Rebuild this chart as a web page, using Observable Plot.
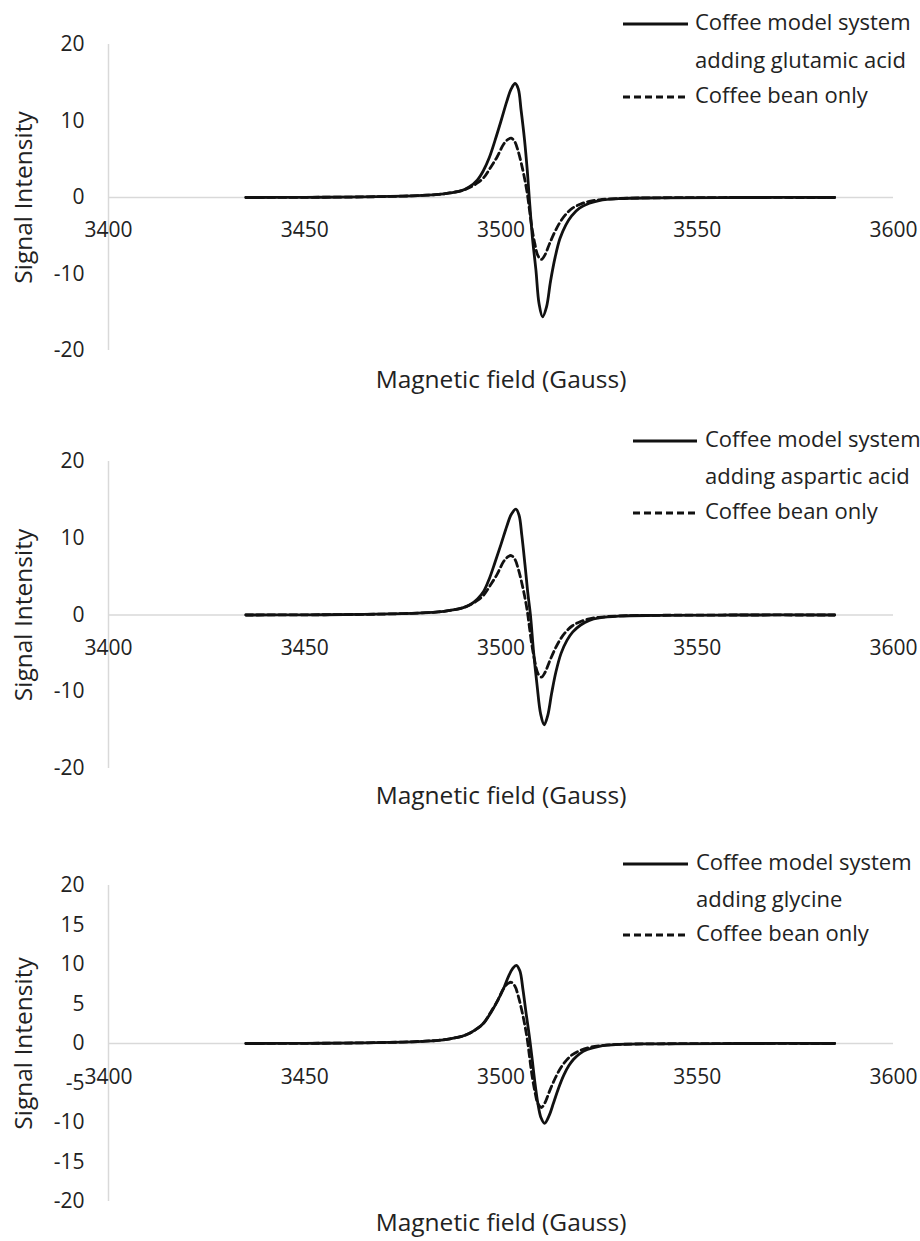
<!DOCTYPE html>
<html><head><meta charset="utf-8">
<script src="https://cdn.jsdelivr.net/npm/d3@7"></script>
<script src="https://cdn.jsdelivr.net/npm/@observablehq/plot@0.6"></script>
<style>
body{margin:0;background:#fff;font-family:"Open Sans",sans-serif;}
#root{position:relative;width:920px;height:1241px;overflow:hidden;}
.panel{position:absolute;left:0;}
</style></head><body><div id="root"></div>
<script>
// ---- tick labels ----
const xTicks = [3400, 3450, 3500, 3550, 3600];
const yTicksWide = [-20, -10, 0, 10, 20];
const yTicksFine = [-20, -15, -10, -5, 0, 5, 10, 15, 20];

// ---- series names ----
const solidNames = ["Coffee model system adding glutamic acid", "Coffee model system adding aspartic acid", "Coffee model system adding glycine"];
const beanName = "Coffee bean only";

// ---- Coffee bean only (dashed, same in every panel) ----
const beanField  = [3435, 3450, 3465, 3475, 3480, 3484, 3487, 3490, 3492, 3494, 3495.6, 3497.3, 3499, 3500.7, 3501.8, 3502.6, 3503.5, 3504.4, 3505.2, 3506, 3506.7, 3507.3, 3507.8, 3508.6, 3509.4, 3510.3, 3511.2, 3512.4, 3513.8, 3515.2, 3516.7, 3518.2, 3520.3, 3522.5, 3525, 3530, 3540, 3560, 3585];
const beanSignal = [0, 0.02, 0.08, 0.18, 0.28, 0.4, 0.6, 0.9, 1.3, 1.9, 2.6, 3.9, 5.3, 7.0, 7.6, 7.75, 7.3, 6.0, 4.4, 2.5, 0.5, -1.8, -3.7, -6.0, -7.6, -8.1, -7.5, -6.0, -4.4, -3.1, -2.1, -1.4, -0.85, -0.5, -0.3, -0.12, -0.04, 0, 0];

// ---- glutamic acid (panel 1, solid) ----
const glutamicField  = [3435, 3450, 3465, 3475, 3480, 3484, 3487, 3490, 3492, 3494, 3495.5, 3497, 3498.5, 3500, 3501.5, 3502.6, 3503.6, 3504.4, 3505.1, 3506, 3506.7, 3507.2, 3508, 3508.9, 3509.7, 3510.6, 3511.6, 3512.6, 3513.8, 3515, 3516.5, 3518, 3520, 3522.5, 3525, 3530, 3540, 3560, 3585];
const glutamicSignal = [0, 0.02, 0.08, 0.18, 0.28, 0.4, 0.6, 0.9, 1.4, 2.3, 3.5, 5.2, 7.5, 10.0, 12.6, 14.2, 14.9, 14.2, 11.5, 7.5, 3.5, 0, -5.2, -9.5, -13.9, -15.6, -14.3, -11.0, -7.8, -5.4, -3.6, -2.4, -1.4, -0.75, -0.4, -0.15, -0.05, 0, 0];

// ---- aspartic acid (panel 2, solid) ----
const asparticField  = [3435, 3450, 3465, 3475, 3480, 3484, 3487, 3490, 3492, 3494, 3495.6, 3497, 3498.5, 3500, 3501.5, 3502.6, 3503.8, 3504.6, 3505.3, 3506.1, 3506.8, 3507.5, 3508.3, 3509.2, 3510.1, 3511, 3511.9, 3512.9, 3514, 3515.3, 3516.8, 3518.3, 3520.3, 3522.5, 3525, 3530, 3540, 3560, 3585];
const asparticSignal = [0, 0.02, 0.08, 0.18, 0.28, 0.4, 0.6, 0.9, 1.3, 2.1, 3.1, 4.7, 6.9, 9.2, 11.6, 13.1, 13.8, 13.0, 10.4, 6.6, 3.0, 0, -4.8, -9.2, -12.9, -14.3, -13.1, -10.2, -7.4, -5.0, -3.3, -2.2, -1.3, -0.7, -0.38, -0.14, -0.05, 0, 0];

// ---- glycine (panel 3, solid) ----
const glycineField  = [3435, 3450, 3465, 3475, 3480, 3484, 3487, 3490, 3492, 3494, 3495.6, 3497.3, 3499, 3500.7, 3502, 3503, 3503.9, 3504.8, 3505.6, 3506.4, 3507.2, 3507.9, 3508.6, 3509.4, 3510.2, 3511.1, 3512.2, 3513.4, 3514.7, 3516, 3517.3, 3518.5, 3520, 3522, 3525, 3530, 3540, 3560, 3585];
const glycineSignal = [0, 0.02, 0.08, 0.18, 0.28, 0.4, 0.6, 0.9, 1.3, 1.9, 2.6, 3.8, 5.3, 7.0, 8.6, 9.5, 9.9, 9.2, 6.8, 3.8, 1.0, -1.8, -4.8, -7.6, -9.4, -10.1, -9.2, -7.5, -5.6, -4.0, -2.8, -2.0, -1.3, -0.75, -0.35, -0.12, -0.04, 0, 0];

const FONT = '"Open Sans", sans-serif';
const INK = "#222";
const LINE = "#111";

const panels = [
  {top: 0, height: 410, mb: 60, titleDy: 30, tickDy: 33, yTicks: yTicksWide, f: glutamicField, s: glutamicSignal,
   legend: ["Coffee model system", "adding glutamic acid", "Coffee bean only"], legendY: [24, 62, 97], swatch: [623, 688], textX: 695},
  {top: 417, height: 410, mb: 59, titleDy: 28, tickDy: 33, yTicks: yTicksWide, f: asparticField, s: asparticSignal,
   legend: ["Coffee model system", "adding aspartic acid", "Coffee bean only"], legendY: [441, 478, 513], swatch: [633, 697], textX: 705},
  {top: 841, height: 400, mb: 40, titleDy: 22, tickDy: 34, yTicks: yTicksFine, f: glycineField, s: glycineSignal,
   legend: ["Coffee model system", "adding glycine", "Coffee bean only"], legendY: [864, 901, 935], swatch: [623, 688], textX: 696}
];

const root = document.getElementById("root");
const bean = beanField.map((f, i) => ({field: f, signal: beanSignal[i]}));

panels.forEach((p, k) => {
  const solid = p.f.map((f, i) => ({field: f, signal: p.s[i]}));
  const chart = Plot.plot({
    width: 920, height: p.height,
    marginLeft: 108, marginRight: 27, marginTop: 44, marginBottom: p.mb,
    x: {domain: [3400, 3600], axis: null},
    y: {domain: [-20, 20]},
    style: {fontFamily: FONT, fontSize: "21px", color: INK, background: "transparent", overflow: "visible"},
    marks: [
      Plot.ruleY([0], {x1: 3400, x2: 3600, stroke: "#d9d9d9", strokeWidth: 1.5}),
      Plot.ruleX([3400], {y1: -20, y2: 20, stroke: "#d9d9d9", strokeWidth: 1.5}),
      Plot.axisY({ticks: p.yTicks, tickSize: 0, tickPadding: 24, label: null, tickFormat: d => String(d), fontSize: 21, fill: INK}),
      Plot.text(xTicks, {x: d => d, y: () => 0, dy: p.tickDy, text: d => String(d), fontSize: 21, fill: INK}),
      Plot.text(["Signal Intensity"], {frameAnchor: "left", textAnchor: "middle", dx: -84, rotate: -90, fontSize: 24.5, fill: INK}),
      Plot.text(["Magnetic field (Gauss)"], {frameAnchor: "bottom", lineAnchor: "middle", dy: p.titleDy, fontSize: 24.5, fill: INK}),
      Plot.line(bean, {x: "field", y: "signal", curve: "catmull-rom", stroke: LINE, strokeWidth: 2.8, strokeDasharray: "7,4"}),
      Plot.line(solid, {x: "field", y: "signal", curve: "catmull-rom", stroke: LINE, strokeWidth: 2.8})
    ]
  });
  chart.classList.add("panel");
  chart.style.top = p.top + "px";
  root.appendChild(chart);
});

// ---- legends ----
const lg = d3.select(root).append("svg")
  .attr("width", 920).attr("height", 1241)
  .style("position", "absolute").style("left", 0).style("top", 0)
  .style("font-family", FONT).style("font-size", "22px");
panels.forEach(p => {
  const g = lg.append("g");
  g.append("line").attr("x1", p.swatch[0]).attr("x2", p.swatch[1]).attr("y1", p.legendY[0]).attr("y2", p.legendY[0])
    .attr("stroke", LINE).attr("stroke-width", 2.8);
  g.append("line").attr("x1", p.swatch[0]).attr("x2", p.swatch[1]).attr("y1", p.legendY[2]).attr("y2", p.legendY[2])
    .attr("stroke", LINE).attr("stroke-width", 2.8).attr("stroke-dasharray", "7,4");
  p.legend.forEach((t, i) => {
    g.append("text").attr("x", p.textX).attr("y", p.legendY[i]).attr("dominant-baseline", "middle")
      .attr("fill", INK).text(t);
  });
});
</script>
</body></html>
